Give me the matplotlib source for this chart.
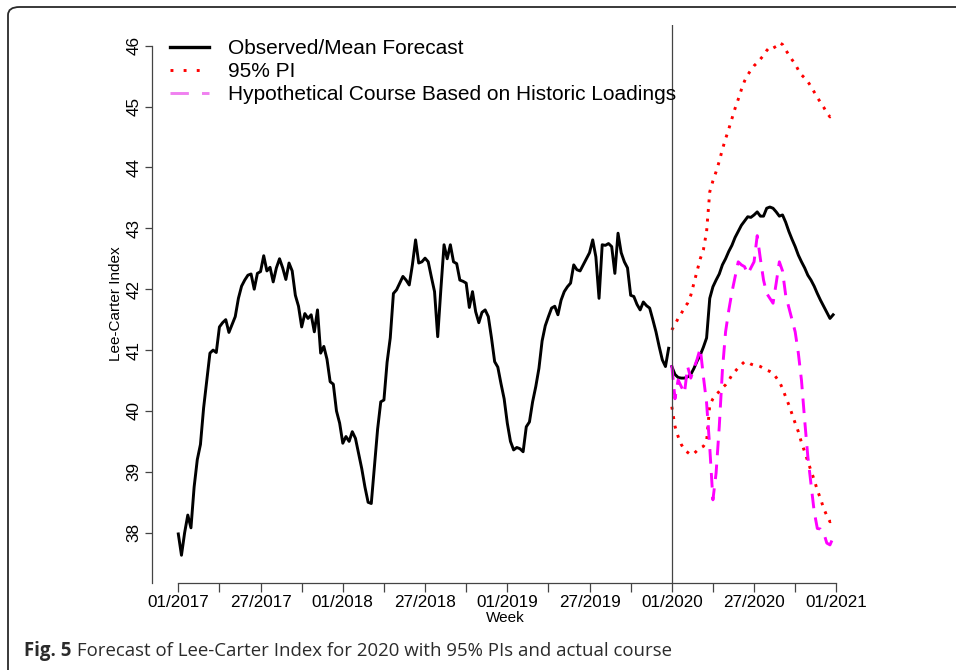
import numpy as np
import matplotlib
matplotlib.use("Agg")
import matplotlib.pyplot as plt
from matplotlib.patches import FancyBboxPatch
from matplotlib.lines import Line2D

# ---------------- data ----------------
obs_weeks = list(range(0, 156))
obs_values = [
    37.98, 37.63, 38.00, 38.29, 38.08, 38.75, 39.20, 39.45, 40.05, 40.50,
    40.95, 41.00, 40.96, 41.38, 41.45, 41.50, 41.29, 41.42, 41.55, 41.85,
    42.05, 42.15, 42.23, 42.25, 42.00, 42.26, 42.29, 42.55, 42.30, 42.36,
    42.12, 42.35, 42.50, 42.35, 42.16, 42.43, 42.30, 41.90, 41.72, 41.38,
    41.60, 41.52, 41.58, 41.30, 41.66, 40.95, 41.06, 40.85, 40.48, 40.44,
    40.00, 39.80, 39.47, 39.58, 39.50, 39.66, 39.55, 39.30, 39.05, 38.75,
    38.50, 38.48, 39.08, 39.70, 40.15, 40.18, 40.80, 41.20, 41.93, 41.99,
    42.10, 42.21, 42.15, 42.07, 42.40, 42.81, 42.43, 42.45, 42.51, 42.45,
    42.20, 41.96, 41.22, 42.00, 42.73, 42.50, 42.73, 42.45, 42.42, 42.15,
    42.13, 42.10, 41.70, 41.96, 41.63, 41.45, 41.62, 41.66, 41.55, 41.20,
    40.81, 40.72, 40.45, 40.20, 39.80, 39.50, 39.36, 39.40, 39.38, 39.33,
    39.74, 39.82, 40.15, 40.40, 40.70, 41.15, 41.40, 41.55, 41.69, 41.72,
    41.58, 41.82, 41.96, 42.04, 42.10, 42.40, 42.32, 42.30, 42.40, 42.50,
    42.60, 42.81, 42.53, 41.85, 42.73, 42.72, 42.75, 42.70, 42.26, 42.92,
    42.60, 42.45, 42.35, 41.90, 41.88, 41.75, 41.66, 41.79, 41.73, 41.69,
    41.50, 41.30, 41.06, 40.84, 40.73, 41.03,
]

fc_weeks = list(range(156, 208))
fc_mean = [
    40.73, 40.60, 40.55, 40.54, 40.54, 40.56, 40.60, 40.70, 40.82, 40.92,
    41.05, 41.20, 41.85, 42.04, 42.15, 42.25, 42.40, 42.50, 42.62, 42.72,
    42.85, 42.95, 43.05, 43.12, 43.19, 43.18, 43.22, 43.27, 43.20, 43.20,
    43.33, 43.35, 43.33, 43.27, 43.20, 43.22, 43.10, 42.95, 42.82, 42.70,
    42.56, 42.45, 42.35, 42.23, 42.15, 42.05, 41.93, 41.82, 41.72, 41.62,
    41.52, 41.58,
]
fc_upper = [
    41.33, 41.42, 41.52, 41.60, 41.70, 41.77, 41.90, 42.10, 42.30, 42.50,
    42.65, 42.95, 43.60, 43.78, 43.93, 44.10, 44.30, 44.47, 44.63, 44.80,
    44.97, 45.12, 45.28, 45.42, 45.52, 45.60, 45.67, 45.72, 45.78, 45.84,
    45.92, 45.98, 45.96, 45.99, 46.05, 46.02, 45.93, 45.85, 45.77, 45.70,
    45.60, 45.52, 45.47, 45.41, 45.33, 45.24, 45.15, 45.07, 44.99, 44.90,
    44.83, 44.86,
]
fc_lower = [
    40.07, 39.75, 39.58, 39.45, 39.36, 39.32, 39.28, 39.30, 39.35, 39.39,
    39.42, 39.50, 40.10, 40.20, 40.27, 40.32, 40.38, 40.43, 40.50, 40.59,
    40.65, 40.71, 40.76, 40.81, 40.80, 40.77, 40.75, 40.75, 40.73, 40.70,
    40.67, 40.65, 40.62, 40.55, 40.48, 40.37, 40.23, 40.10, 39.95, 39.80,
    39.66, 39.48, 39.33, 39.17, 39.02, 38.87, 38.70, 38.56, 38.40, 38.28,
    38.18, 38.20,
]
hypo_values = [
    40.75, 40.20, 40.51, 40.40, 40.29, 40.73, 40.54, 40.70, 40.85, 41.03,
    40.56, 40.13, 39.40, 38.54, 38.98, 39.74, 40.67, 41.30, 41.65, 41.95,
    42.20, 42.45, 42.40, 42.37, 42.25, 42.35, 42.45, 42.88, 42.50, 42.15,
    41.93, 41.85, 41.77, 42.10, 42.45, 42.30, 41.90, 41.70, 41.50, 41.30,
    40.95, 40.50, 39.85, 39.25, 38.80, 38.35, 38.07, 38.06, 38.00, 37.83,
    37.80, 37.92,
]

tick_weeks = list(range(0, 209, 13))
tick_labels = ["01/2017", "", "27/2017", "", "01/2018", "", "27/2018", "",
               "01/2019", "", "27/2019", "", "01/2020", "", "27/2020", "",
               "01/2021"]
y_ticks = [38, 39, 40, 41, 42, 43, 44, 45, 46]
forecast_start = 156

legend_labels = ["Observed/Mean Forecast", "95% PI",
                 "Hypothetical Course Based on Historic Loadings"]
caption_bold = "Fig. 5"
caption_rest = " Forecast of Lee-Carter Index for 2020 with 95% PIs and actual course"

# ---------------- figure ----------------
W, H = 956, 670
plt.rcParams['font.family'] = ['Liberation Sans', 'DejaVu Sans']
fig = plt.figure(figsize=(W / 100, H / 100), dpi=100)
fig.patch.set_facecolor('white')

# outer rounded frame
frame = FancyBboxPatch((8 / W, -20 / H), 1.2, (H - 7 + 20) / H,
                       boxstyle="round,pad=0,rounding_size=0.012",
                       transform=fig.transFigure, fill=False,
                       edgecolor='#2a2a2a', linewidth=1.3, clip_on=False)
fig.patches.append(frame)

ax_l, ax_r, ax_t, ax_b = 151.7, 858.0, 25.0, 583.0
ax = fig.add_axes([ax_l / W, (H - ax_b) / H, (ax_r - ax_l) / W, (ax_b - ax_t) / H])

ax.plot(obs_weeks, obs_values, color='black', lw=2.1, solid_joinstyle='round')
ax.plot(fc_weeks, fc_mean, color='black', lw=2.1, solid_joinstyle='round')
ax.plot(fc_weeks, fc_upper, color='#ff0000', lw=2.1, linestyle=(0, (1, 2.3)))
ax.plot(fc_weeks, fc_lower, color='#ff0000', lw=2.1, linestyle=(0, (1, 2.3)))
ax.plot(fc_weeks, hypo_values, color='#ff00ff', lw=2.1, linestyle=(0, (5, 3.2)))
ax.axvline(forecast_start, color='#444444', lw=0.9)

ax.set_xlim(-8.41, 214.86)
ax.set_ylim(37.174, 46.34)

for s in ['top', 'right']:
    ax.spines[s].set_visible(False)
ax.spines['left'].set_bounds(37.174, 46)
ax.spines['bottom'].set_bounds(0, 208)
for s in ['left', 'bottom']:
    ax.spines[s].set_color('#444444')
    ax.spines[s].set_linewidth(0.9)

ax.set_xticks(tick_weeks)
ax.set_xticklabels(tick_labels, fontsize=12.3)
ax.set_yticks(y_ticks)
ax.set_yticklabels([str(v) for v in y_ticks], fontsize=12.3, rotation=90, va='center')
ax.tick_params(axis='x', length=6.5, width=0.9, color='#444444', pad=2)
ax.tick_params(axis='y', length=5, width=0.9, color='#444444', pad=2.5)

ax.set_xlabel("Week", fontsize=11)
ax.xaxis.set_label_coords(0.5, -(611 - ax_b) / (ax_b - ax_t))
ax.xaxis.label.set_va('top')
ax.set_ylabel("Lee-Carter Index", fontsize=11)
ax.yaxis.set_label_coords((123 - ax_l) / (ax_r - ax_l), 0.5)

handles = [
    Line2D([], [], color='black', lw=2.4),
    Line2D([], [], color='#ff0000', lw=2.1, linestyle=(0, (1, 3.5))),
    Line2D([], [], color='#f080f0', lw=2.1, linestyle=(0, (6.3, 4.5))),
]
leg = ax.legend(handles, legend_labels, loc='upper left',
                bbox_to_anchor=(170 / W, (H - 39) / H), bbox_transform=fig.transFigure,
                frameon=False, fontsize=15, handlelength=1.88, handletextpad=0.88,
                labelspacing=0.2, borderpad=0, borderaxespad=0)

# caption
t1 = fig.text(24.5 / W, (H - 651) / H, caption_bold, fontsize=13.4, fontweight='bold',
              family=['Open Sans', 'DejaVu Sans'], color='#2b2b2b', va='center', ha='left')
fig.canvas.draw()
bb = t1.get_window_extent(renderer=fig.canvas.get_renderer())
fig.text(bb.x1 / W, (H - 651) / H, caption_rest, fontsize=13.4,
         family=['Open Sans', 'DejaVu Sans'], color='#2b2b2b', va='center', ha='left')

fig.savefig("out.png", dpi=100, facecolor='white')
